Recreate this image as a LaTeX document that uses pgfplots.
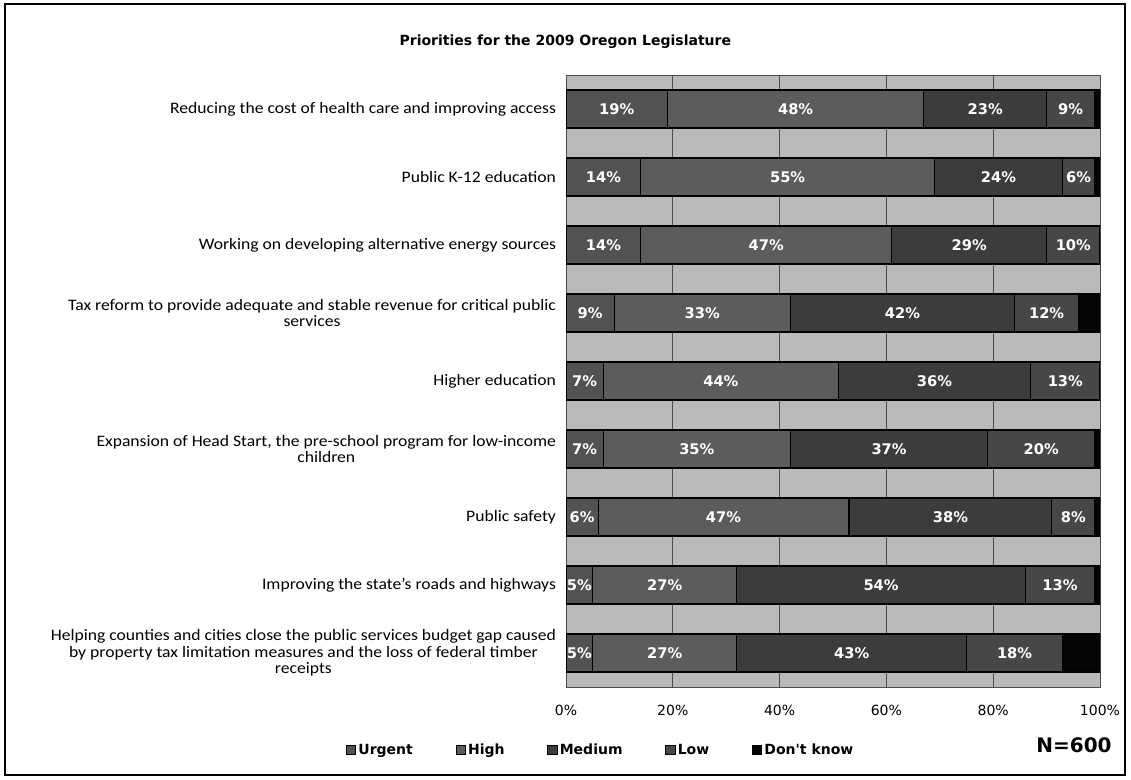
\documentclass[border=0pt]{standalone}
\usepackage{pgfplots}
\pgfplotsset{compat=1.18}
\usepackage{pgfplotstable}
\usepackage{fontspec}
\setmainfont{Carlito}[FakeStretch=1.1]
\newfontfamily\dejavu{DejaVu Sans}

\definecolor{cbg}{HTML}{BABABA}
\definecolor{curgent}{HTML}{525252}
\definecolor{chigh}{HTML}{5C5C5C}
\definecolor{cmedium}{HTML}{3C3C3C}
\definecolor{clow}{HTML}{474747}
\definecolor{cdk}{HTML}{050505}

% y  urgent high medium low dk
\pgfplotstableread{
y U  H  M  L  D
1 19 48 23 9  1
2 14 55 24 6  1
3 14 47 29 10 0
4 9  33 42 12 4
5 7  44 36 13 0
6 7  35 37 20 1
7 6  47 38 8  1
8 5  27 54 13 1
9 5  27 43 18 7
}\data

% label midpoints
\pgfplotstableread{
x    y lab
9.5  1 19\%
43   1 48\%
78.5 1 23\%
94.5 1 9\%
7    2 14\%
41.5 2 55\%
81   2 24\%
96   2 6\%
7    3 14\%
37.5 3 47\%
75.5 3 29\%
95   3 10\%
4.5  4 9\%
25.5 4 33\%
63   4 42\%
90   4 12\%
3.5  5 7\%
29   5 44\%
69   5 36\%
93.5 5 13\%
3.5  6 7\%
24.5 6 35\%
60.5 6 37\%
89   6 20\%
3    7 6\%
29.5 7 47\%
72   7 38\%
95   7 8\%
2.5  8 5\%
18.5 8 27\%
59   8 54\%
92.5 8 13\%
2.5  9 5\%
18.5 9 27\%
53.5 9 43\%
84   9 18\%
}\labels

\begin{document}
\begin{tikzpicture}
\useasboundingbox (0pt,0pt) rectangle (848.25pt,-585pt);
\draw[line width=1.2pt] (3.75pt,-3pt) rectangle (843.75pt,-581.25pt);
\node[font=\dejavu\bfseries\fontsize{10.5}{12}\selectfont] at (424pt,-31.5pt) {Priorities for the 2009 Oregon Legislature};
\node[font=\dejavu\bfseries\fontsize{15}{17}\selectfont] at (805.5pt,-558.75pt) {N=600};

\begin{axis}[
  at={(424.5pt,-515.25pt)}, anchor=south west,
  width=400.5pt, height=459pt, scale only axis,
  xbar stacked, bar width=28.5pt,
  xmin=0, xmax=100, ymin=0.5, ymax=9.5, y dir=reverse,
  axis background/.style={fill=cbg},
  axis line style={draw=black!70, line width=0.5pt},
  xmajorgrids, grid style={draw=black!70, line width=0.7pt},
  xtick={0,20,40,60,80,100},
  xticklabels={0\%,20\%,40\%,60\%,80\%,100\%},
  xticklabel style={font=\dejavu\fontsize{10.5}{12}\selectfont, yshift=-10pt},
  ytick={1,2,3,4,5,6,7,8,9},
  yticklabels={
    Reducing the cost of health care and improving access,
    Public K-12 education,
    Working on developing alternative energy sources,
    {Tax reform to provide adequate and stable revenue for critical public\\services},
    Higher education,
    {Expansion of Head Start, the pre-school program for low-income\\children},
    Public safety,
    {Improving the state's roads and highways},
    {Helping counties and cities close the public services budget gap caused\\by property tax limitation measures and the loss of federal timber\\receipts}
  },
  yticklabel style={align=center, font=\fontsize{12}{12.5}\selectfont, xshift=-4pt},
  major tick length=0pt,
  legend columns=5,
  legend style={at={(0.0655,-0.103)}, anchor=center, draw=none, fill=none,
    font=\dejavu\bfseries\fontsize{10.5}{12}\selectfont,
    /tikz/every even column/.append style={column sep=30pt}},
  legend image code/.code={\draw[#1, draw=black, line width=0.4pt] (0pt,-3.5pt) rectangle (7pt,3.5pt);},
]
\addplot[fill=curgent, draw=black, line width=0.8pt] table[x=U, y=y] {\data};
\addplot[fill=chigh, draw=black, line width=0.8pt] table[x=H, y=y] {\data};
\addplot[fill=cmedium, draw=black, line width=0.8pt] table[x=M, y=y] {\data};
\addplot[fill=clow, draw=black, line width=0.8pt] table[x=L, y=y] {\data};
\addplot[fill=cdk, draw=black, line width=0.8pt] table[x=D, y=y] {\data};
\legend{Urgent, High, Medium, Low, Don't know}
\end{axis}

\begin{axis}[
  at={(424.5pt,-515.25pt)}, anchor=south west,
  width=400.5pt, height=459pt, scale only axis,
  xmin=0, xmax=100, ymin=0.5, ymax=9.5, y dir=reverse,
  hide axis, clip=false,
]
\addplot[only marks, mark=none, nodes near coords, point meta=explicit symbolic,
  every node near coord/.append style={anchor=center, text=white,
    font=\dejavu\bfseries\fontsize{11}{12}\selectfont}]
  table[x=x, y=y, meta=lab] {\labels};
\end{axis}
\end{tikzpicture}
\end{document}
